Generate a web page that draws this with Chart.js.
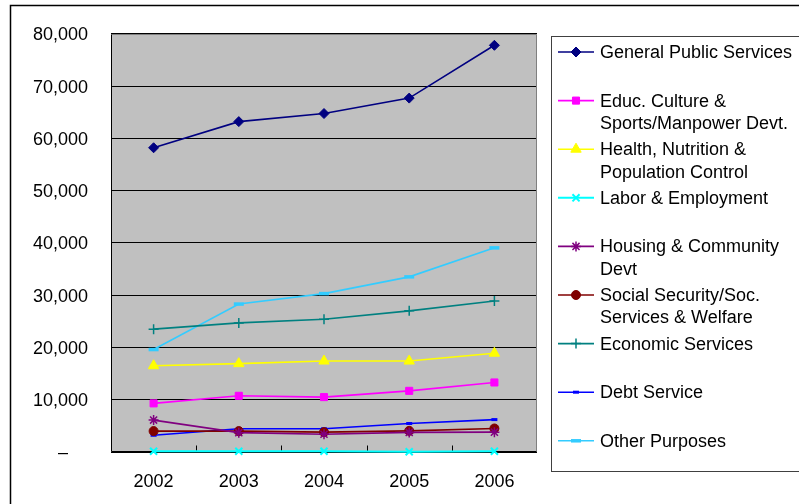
<!DOCTYPE html>
<html>
<head>
<meta charset="utf-8">
<script src="https://cdn.jsdelivr.net/npm/chart.js@4/dist/chart.umd.min.js"></script>
<style>
  html, body { margin: 0; padding: 0; background: #ffffff; }
  #wrap { position: relative; width: 799px; height: 504px; overflow: hidden; }
  canvas { display: block; }
</style>
</head>
<body>
<div id="wrap"><canvas id="chart" width="799" height="504"></canvas></div>
<script>
// Government expenditure by function, 2002-2006
const years = ['2002', '2003', '2004', '2005', '2006'];
const yTicks = [0, 10000, 20000, 30000, 40000, 50000, 60000, 70000, 80000];

const generalPublic  = [58200, 63200, 64750, 67700, 77800];
const education      = [9300, 10750, 10500, 11700, 13300];
const health         = [16500, 16900, 17400, 17400, 18900];
const labor          = [150, 150, 150, 50, 150];
const housing        = [6100, 3700, 3400, 3750, 3800];
const socialSecurity = [4000, 4000, 3800, 4050, 4500];
const economic       = [23500, 24700, 25400, 27000, 28900];
const debtService    = [3200, 4450, 4450, 5450, 6200];
const otherPurposes  = [19600, 28300, 30300, 33500, 39050];

const FONT = '"Liberation Sans", Arial, sans-serif';

function series(label, data, color, pointStyle, radius, pointBorderWidth) {
  return {
    label, data,
    borderColor: color,
    backgroundColor: color,
    pointBackgroundColor: color,
    pointBorderColor: color,
    borderWidth: 1.6,
    pointStyle,
    pointRadius: radius,
    pointHoverRadius: radius,
    pointBorderWidth: pointBorderWidth,
    tension: 0,
    fill: false,
    clip: false
  };
}

const datasets = [
  series(['General Public Services'], generalPublic, '#000080', 'rectRot', 5, 1),
  series(['Educ. Culture &', 'Sports/Manpower Devt.'], education, '#FF00FF', 'rect', 5, 1),
  series(['Health, Nutrition &', 'Population Control'], health, '#FFFF00', 'triangle', 6, 1),
  series(['Labor & Employment'], labor, '#00FFFF', 'crossRot', 5, 2),
  series(['Housing & Community', 'Devt'], housing, '#800080', 'star', 5, 1.5),
  series(['Social Security/Soc.', 'Services & Welfare'], socialSecurity, '#800000', 'circle', 4.5, 1),
  series(['Economic Services'], economic, '#008080', 'cross', 5, 1.5),
  series(['Debt Service'], debtService, '#0000FF', 'line', 3, 3),
  series(['Other Purposes'], otherPurposes, '#33CCFF', 'line', 5, 3.5)
];
datasets[3].borderWidth = 2;

// Grey plot area, frame and inward category ticks
const plotFrame = {
  id: 'plotFrame',
  beforeDraw(chart) {
    const { ctx, chartArea: a } = chart;
    ctx.save();
    ctx.fillStyle = '#C0C0C0';
    ctx.fillRect(a.left, a.top, a.right - a.left, a.bottom - a.top);
    ctx.restore();
  },
  beforeDatasetsDraw(chart) {
    const { ctx, chartArea: a } = chart;
    const L = Math.round(a.left) + 0.5, R = Math.round(a.right) - 0.5;
    const T = Math.round(a.top) + 0.5, B = Math.round(a.bottom) - 0.5;
    ctx.save();
    ctx.lineWidth = 1;
    ctx.strokeStyle = '#808080';
    ctx.beginPath();
    ctx.moveTo(L, T); ctx.lineTo(R, T); ctx.lineTo(R, B);
    ctx.stroke();
    ctx.strokeStyle = '#000000';
    ctx.beginPath();
    ctx.moveTo(L, T); ctx.lineTo(L, B); ctx.lineTo(R, B);
    ctx.stroke();
    // category boundary ticks pointing into the plot
    const n = years.length;
    const step = (a.right - a.left) / n;
    ctx.beginPath();
    for (let i = 1; i < n; i++) {
      const x = Math.round(a.left + i * step) + 0.5;
      ctx.moveTo(x, B); ctx.lineTo(x, B - 6);
    }
    ctx.stroke();
    ctx.restore();
  }
};

// Outer chart frame and boxed legend
const sideLegend = {
  id: 'sideLegend',
  afterDraw(chart) {
    const ctx = chart.ctx;
    ctx.save();
    ctx.strokeStyle = '#000000';
    ctx.lineWidth = 1.5;
    ctx.strokeRect(10.5, 5.5, 900, 700);

    ctx.lineWidth = 1;
    ctx.strokeStyle = '#404040';
    ctx.strokeRect(551.5, 36.5, 400, 435);

    const rowTop = 52, rowStep = 48.6, lineGap = 22.5;
    ctx.font = '18px ' + FONT;
    ctx.textBaseline = 'middle';
    ctx.textAlign = 'left';
    chart.data.datasets.forEach((ds, i) => {
      const y = rowTop + i * rowStep;
      ctx.strokeStyle = ds.borderColor;
      ctx.lineWidth = ds.borderWidth;
      ctx.beginPath();
      ctx.moveTo(558, y); ctx.lineTo(594, y);
      ctx.stroke();
      ctx.fillStyle = ds.pointBackgroundColor;
      ctx.strokeStyle = ds.pointBorderColor;
      ctx.lineWidth = ds.pointBorderWidth;
      Chart.helpers.drawPoint(ctx, {
        pointStyle: ds.pointStyle,
        radius: ds.pointRadius,
        rotation: 0,
        borderWidth: ds.pointBorderWidth
      }, 576, y);
      ctx.fillStyle = '#000000';
      ds.label.forEach((line, k) => ctx.fillText(line, 600, y + 1 + k * lineGap));
    });
    ctx.restore();
  }
};

new Chart(document.getElementById('chart'), {
  type: 'line',
  data: { labels: years, datasets },
  options: {
    responsive: false,
    animation: false,
    devicePixelRatio: 1,
    layout: { padding: { left: 0, top: 33, right: 262, bottom: 0 } },
    plugins: { legend: { display: false }, tooltip: { enabled: false } },
    scales: {
      x: {
        type: 'category',
        offset: true,
        grid: { display: false, drawTicks: false },
        border: { display: false },
        ticks: { color: '#000', font: { family: FONT, size: 18 }, padding: 19.5, maxRotation: 0 },
        afterFit(scale) { scale.height = 52; }
      },
      y: {
        min: 0, max: 80000,
        afterBuildTicks(scale) { scale.ticks = yTicks.map(v => ({ value: v })); },
        grid: { color: '#000000', lineWidth: 1, drawTicks: false },
        border: { display: false },
        ticks: {
          color: '#000',
          font: { family: FONT, size: 18 },
          padding: 23,
          labelOffset: 1.5,
          callback: v => v === 0 ? '–\u2007\u2007' : v.toLocaleString('en-US')
        },
        afterFit(scale) { scale.width = 111; }
      }
    }
  },
  plugins: [plotFrame, sideLegend]
});
</script>
</body>
</html>
